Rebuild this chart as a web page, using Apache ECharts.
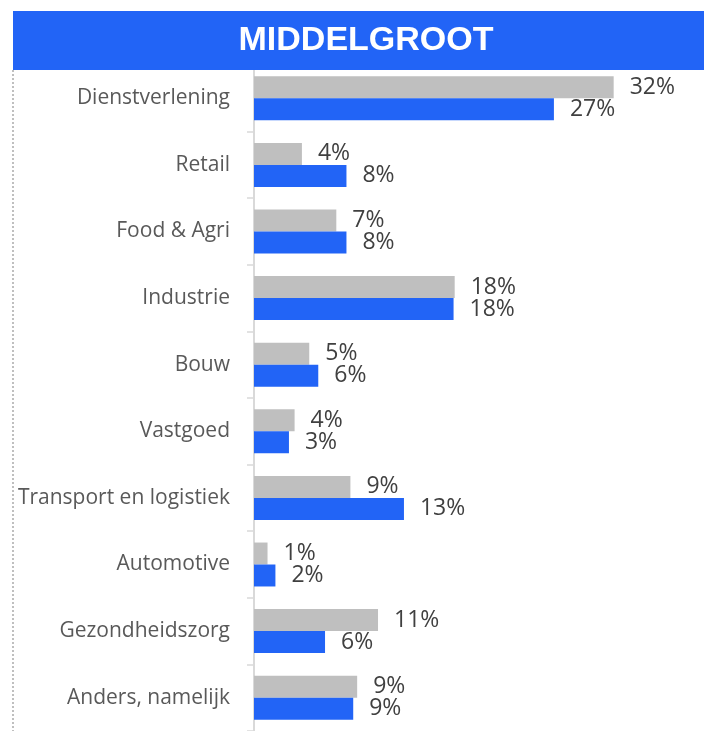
<!DOCTYPE html>
<html>
<head>
<meta charset="utf-8">
<script src="https://cdn.jsdelivr.net/npm/echarts@6/dist/echarts.min.js"></script>
<style>html,body{margin:0;padding:0;background:#fff}#c{width:705px;height:731px}</style>
</head>
<body>
<div id="c"></div>
<script>
const title = 'MIDDELGROOT';
const categories = ['Dienstverlening','Retail','Food & Agri','Industrie','Bouw','Vastgoed','Transport en logistiek','Automotive','Gezondheidszorg','Anders, namelijk'];
const greyValues = [31.9, 4.25, 7.3, 17.8, 4.9, 3.6, 8.55, 1.2, 11.0, 9.15];
const blueValues = [26.6, 8.2, 8.2, 17.7, 5.7, 3.1, 13.3, 1.9, 6.3, 8.8];

const chart = echarts.init(document.getElementById('c'), null, {renderer:'canvas'});
const lbl = {
  show: true, position: 'right', distance: 16,
  fontFamily: 'Open Sans', fontSize: 23, color: '#404040',
  formatter: p => Math.round(p.value) + '%'
};
chart.setOption({
  animation: false,
  grid: {left: 254, right: 0, top: 65, bottom: 0, containLabel: false},
  xAxis: {type: 'value', min: 0, max: 40, show: false},
  yAxis: {
    type: 'category', data: categories, inverse: true,
    axisLine: {show: true, lineStyle: {color: '#d9d9d9', width: 2}},
    axisTick: {show: true, length: 7, lineStyle: {color: '#d9d9d9', width: 1.5}},
    axisLabel: {margin: 24, fontFamily: 'Open Sans', fontSize: 21, color: '#595959'},
    splitLine: {show: false}
  },
  series: [
    {name: 'Grijs', type: 'bar', data: greyValues, barGap: '0%', barCategoryGap: '34%',
     itemStyle: {color: '#bfbfbf'}, label: lbl},
    {name: 'Blauw', type: 'bar', data: blueValues, barGap: '0%', barCategoryGap: '34%',
     itemStyle: {color: '#2264f6'}, label: lbl}
  ],
  graphic: [
    {type: 'line', z: 10, shape: {x1: 13, y1: 70, x2: 13, y2: 731},
     style: {stroke: '#bfbfbf', lineWidth: 2, lineDash: [2, 2]}},
    {type: 'rect', z: 20, shape: {x: 13, y: 11, width: 691, height: 59},
     style: {fill: '#2264f6'}},
    {type: 'text', z: 21, x: 366, y: 41,
     style: {text: title, fill: '#ffffff', font: 'bold 34px "Liberation Sans", Arial, sans-serif',
             align: 'center', verticalAlign: 'middle'}}
  ]
});
</script>
</body>
</html>
